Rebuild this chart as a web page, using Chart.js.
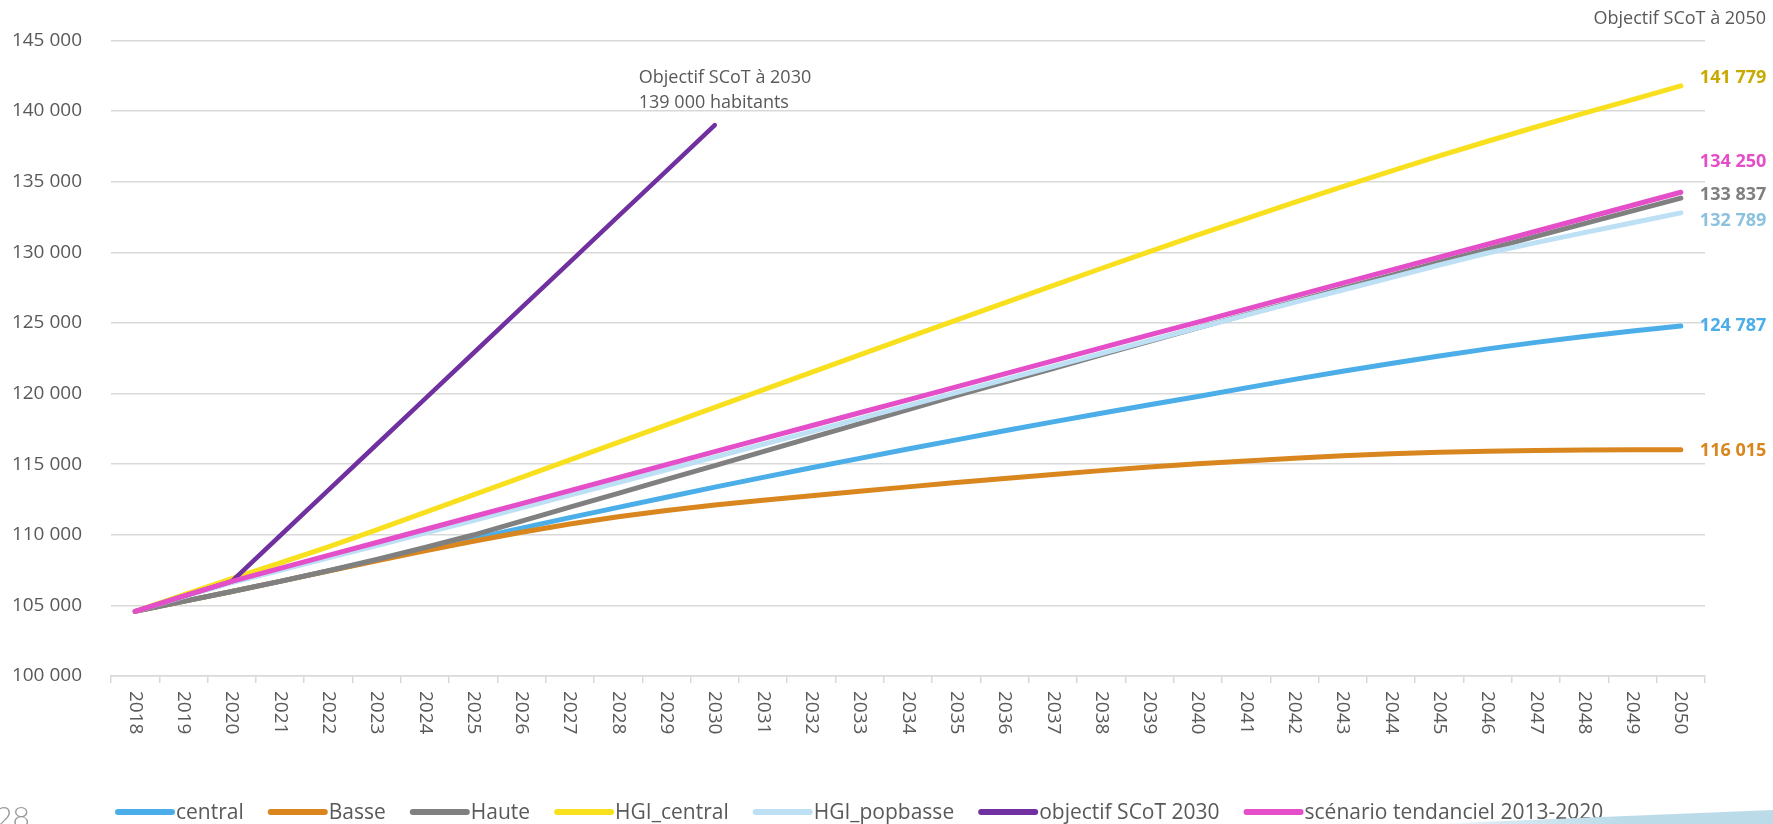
<!DOCTYPE html>
<html lang="fr">
<head>
<meta charset="utf-8">
<title>Projections de population</title>
<script src="https://cdn.jsdelivr.net/npm/chart.js@4.4.1/dist/chart.umd.min.js"></script>
<style>
    html, body { margin: 0; padding: 0; background: #fff; overflow: hidden; }
    #wrap { position: relative; width: 1773px; height: 824px; }
    #pageNum {
        position: absolute; left: -5px; top: 798px;
        font-family: Lato, "Open Sans", sans-serif; font-weight: 300;
        font-size: 30px; color: #9a9a9a;
    }
    #wedge {
        position: absolute; left: 0; top: 0; width: 1773px; height: 824px;
        background: linear-gradient(to right, #fff 1430px, #d6e9f2 1500px, #bcdbe9 1620px);
        clip-path: polygon(1430px 824px, 1773px 810px, 1773px 824px);
        pointer-events: none;
    }
</style>
</head>
<body>
<div id="wrap">
    <canvas id="popChart" width="1773" height="824"></canvas>
    <div id="wedge"></div>
    <div id="pageNum">28</div>
</div>
<script>
// Categories (years)
const years = ['2018', '2019', '2020', '2021', '2022', '2023', '2024', '2025', '2026', '2027', '2028',
    '2029', '2030', '2031', '2032', '2033', '2034', '2035', '2036', '2037', '2038', '2039',
    '2040', '2041', '2042', '2043', '2044', '2045', '2046', '2047', '2048', '2049', '2050'];

// Series values
const central = [104575, 105280, 105980, 106700, 107440, 108200, 108960, 109720, 110470, 111210, 111940,
    112660, 113370, 114060, 114740, 115410, 116070, 116720, 117360, 117990, 118600, 119200,
    119790, 120400, 121000, 121580, 122130, 122660, 123160, 123620, 124030, 124420, 124787];
const basse = [104575, 105280, 105980, 106700, 107430, 108150, 108860, 109540, 110180, 110760, 111280,
    111720, 112100, 112440, 112760, 113080, 113390, 113700, 113990, 114270, 114540, 114790,
    115020, 115230, 115420, 115590, 115730, 115840, 115920, 115970, 116000, 116010, 116015];
const haute = [104575, 105280, 105980, 106700, 107450, 108250, 109100, 109980, 110960, 111950, 112930,
    113920, 114900, 115890, 116880, 117870, 118860, 119850, 120810, 121770, 122730, 123690,
    124650, 125580, 126510, 127440, 128370, 129300, 130210, 131120, 132030, 132930, 133837];
const hgiCentral = [104575, 105750, 106900, 108000, 109150, 110350, 111580, 112820, 114060, 115300, 116540,
    117780, 119020, 120260, 121500, 122740, 123980, 125200, 126420, 127640, 128850, 130050,
    131230, 132390, 133530, 134650, 135750, 136820, 137860, 138870, 139850, 140810, 141779];
const hgiPopbasse = [104575, 105620, 106620, 107480, 108360, 109240, 110120, 111010, 111900, 112800, 113700,
    114600, 115500, 116400, 117300, 118220, 119140, 120060, 120980, 121900, 122820, 123740,
    124650, 125550, 126450, 127330, 128200, 129100, 129950, 130680, 131390, 132090, 132789];
const objectifScot = [104575, 105650, 106700, 109930, 113160, 116390, 119620, 122850, 126080, 129310, 132540,
    135770, 139000, null, null, null, null, null, null, null, null, null,
    null, null, null, null, null, null, null, null, null, null, null];
const tendanciel = [104575, 105650, 106700, 107620, 108540, 109450, 110370, 111290, 112210, 113130, 114040,
    114960, 115880, 116800, 117720, 118640, 119550, 120470, 121390, 122310, 123230, 124150,
    125060, 125980, 126900, 127820, 128740, 129660, 130570, 131490, 132410, 133330, 134250];

// Y axis ticks
const yTicks = [100000, 105000, 110000, 115000, 120000, 125000, 130000, 135000, 140000, 145000];

const textGrey = '#595959';
const gridGrey = '#d9d9d9';

function fmt(n) {
    return String(n).replace(/\B(?=(\d{3})+(?!\d))/g, ' ');
}

const seriesDefs = [
    { label: 'central', data: central, color: '#4baee8', width: 5 },
    { label: 'Basse', data: basse, color: '#d9861f', width: 5 },
    { label: 'Haute', data: haute, color: '#808080', width: 5 },
    { label: 'HGI_central', data: hgiCentral, color: '#f9e01f', width: 5 },
    { label: 'HGI_popbasse', data: hgiPopbasse, color: '#bde0f5', width: 5 },
    { label: 'objectif SCoT 2030', data: objectifScot, color: '#7030a0', width: 4.5 },
    { label: 'scénario tendanciel 2013-2020', data: tendanciel, color: '#e44ec8', width: 5 }
];

// End-of-line value labels: dataset index, label colour, vertical nudge
const endLabels = [
    { ds: 3, color: '#c9aa00', dy: -8 },
    { ds: 6, color: '#e44ec8', dy: -30 },
    { ds: 2, color: '#7f7f7f', dy: -3 },
    { ds: 4, color: '#8cc1df', dy: 8 },
    { ds: 0, color: '#4baee8', dy: 0 },
    { ds: 1, color: '#d9861f', dy: 1 }
];

// Text drawn on the canvas: annotations, rotated year labels, legend
const textPlugin = {
    id: 'textPlugin',
    afterDraw(chart) {
        const ctx = chart.ctx;
        const xs = chart.scales.x;
        const ys = chart.scales.y;
        const area = chart.chartArea;

        ctx.save();

        // year labels, reading top to bottom
        ctx.fillStyle = textGrey;
        ctx.font = '19px "Open Sans"';
        ctx.textAlign = 'left';
        ctx.textBaseline = 'middle';
        years.forEach((yr, i) => {
            const x = xs.getPixelForTick(i);
            ctx.save();
            ctx.translate(x, area.bottom + 15);
            ctx.rotate(Math.PI / 2);
            ctx.fillText(yr, 0, 0);
            ctx.restore();
        });

        // value labels at 2050
        ctx.font = 'bold 18px "Open Sans"';
        ctx.textAlign = 'left';
        const last = years.length - 1;
        endLabels.forEach(l => {
            const v = chart.data.datasets[l.ds].data[last];
            const x = xs.getPixelForTick(last) + 19;
            const y = ys.getPixelForValue(v) + l.dy;
            ctx.fillStyle = l.color;
            ctx.fillText(fmt(v), x, y);
        });

        // top-right caption
        ctx.font = '18px "Open Sans"';
        ctx.fillStyle = textGrey;
        ctx.textAlign = 'right';
        ctx.fillText('Objectif SCoT à 2050', chart.width - 7, 19);

        // 2030 objective annotation, anchored on last purple point
        const objIdx = objectifScot.findIndex(v => v === null) - 1;
        const px = xs.getPixelForTick(objIdx);
        const py = ys.getPixelForValue(objectifScot[objIdx]);
        ctx.textAlign = 'left';
        ctx.fillText('Objectif SCoT à 2030', px - 76, py - 47);
        ctx.fillText(fmt(objectifScot[objIdx]) + ' habitants', px - 76, py - 22);

        // legend
        ctx.font = '21px "Open Sans"';
        ctx.textBaseline = 'middle';
        let lx = 118;
        const ly = 812;
        chart.data.datasets.forEach(ds => {
            ctx.strokeStyle = ds.borderColor;
            ctx.lineWidth = 6;
            ctx.lineCap = 'round';
            ctx.beginPath();
            ctx.moveTo(lx, ly);
            ctx.lineTo(lx + 54, ly);
            ctx.stroke();
            ctx.fillStyle = textGrey;
            ctx.fillText(ds.label, lx + 58, ly + 1);
            lx += 58 + ctx.measureText(ds.label).width + 27;
        });

        ctx.restore();
    }
};

new Chart(document.getElementById('popChart'), {
    type: 'line',
    data: {
        labels: years,
        datasets: seriesDefs.map((s, i) => ({
            label: s.label,
            data: s.data,
            borderColor: s.color,
            backgroundColor: s.color,
            borderWidth: s.width,
            borderCapStyle: 'round',
            borderJoinStyle: 'round',
            pointRadius: 0,
            tension: 0,
            spanGaps: false,
            order: seriesDefs.length - i
        }))
    },
    options: {
        responsive: false,
        animation: false,
        layout: { padding: { top: 40, right: 68, bottom: 0, left: 0 } },
        plugins: {
            legend: { display: false },
            tooltip: { enabled: false }
        },
        scales: {
            x: {
                type: 'category',
                offset: true,
                grid: {
                    offset: true,
                    drawOnChartArea: false,
                    drawTicks: true,
                    tickLength: 7,
                    color: gridGrey,
                    lineWidth: 1.5
                },
                border: { display: true, color: gridGrey, width: 1.5 },
                ticks: { display: false },
                afterFit(scale) { scale.height = 148; }
            },
            y: {
                min: 100000,
                max: 145000,
                afterBuildTicks(scale) { scale.ticks = yTicks.map(v => ({ value: v })); },
                grid: { color: gridGrey, lineWidth: 1.5, drawTicks: false },
                border: { display: false },
                ticks: {
                    color: textGrey,
                    padding: 29,
                    font: { family: '"Open Sans"', size: 19 },
                    callback: v => fmt(v)
                },
                afterFit(scale) { scale.width = 111; }
            }
        }
    },
    plugins: [textPlugin]
});
</script>
</body>
</html>
